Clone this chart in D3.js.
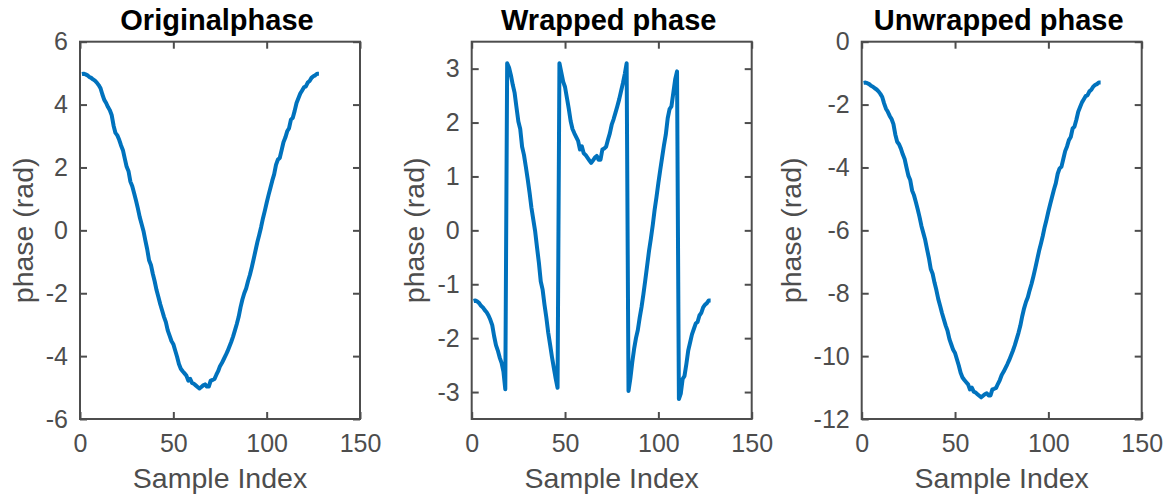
<!DOCTYPE html>
<html>
<head>
<meta charset="utf-8">
<script src="https://cdn.jsdelivr.net/npm/d3@7"></script>
<style>
  body { margin: 0; background: #fff; }
  svg { display: block; font-family: "Liberation Sans", Arial, Helvetica, sans-serif; }
</style>
</head>
<body>
<div id="chart"></div>
<script>
// phase values, samples 1..128
const originalPhase = [
  4.97, 4.98, 4.96, 4.93, 4.88, 4.85, 4.80, 4.76, 4.70, 4.62,
  4.52, 4.32, 4.15, 4.05, 3.92, 3.82, 3.66, 3.33, 3.10, 3.02,
  2.88, 2.70, 2.55, 2.28, 2.02, 1.88, 1.55, 1.40, 1.18, 0.95,
  0.70, 0.42, 0.20, -0.02, -0.32, -0.60, -0.95, -1.10, -1.38, -1.62,
  -1.90, -2.12, -2.35, -2.55, -2.75, -2.92, -3.18, -3.35, -3.52, -3.62,
  -3.82, -4.02, -4.25, -4.40, -4.48, -4.55, -4.62, -4.78, -4.72, -4.85,
  -4.88, -4.93, -4.98, -5.03, -4.98, -4.93, -4.90, -4.97, -4.97, -4.78,
  -4.76, -4.73, -4.60, -4.48, -4.32, -4.22, -4.10, -3.98, -3.85, -3.70,
  -3.55, -3.38, -3.18, -2.98, -2.75, -2.45, -2.20, -2.00, -1.85, -1.62,
  -1.42, -1.18, -0.92, -0.65, -0.38, -0.15, 0.10, 0.38, 0.62, 0.88,
  1.12, 1.35, 1.58, 1.78, 2.08, 2.25, 2.30, 2.55, 2.80, 2.95,
  3.15, 3.25, 3.52, 3.58, 3.80, 4.05, 4.20, 4.35, 4.45, 4.55,
  4.58, 4.70, 4.75, 4.85, 4.90, 4.93, 4.98, 4.98
];

const wrappedPhase = [
  -1.31, -1.30, -1.32, -1.35, -1.40, -1.43, -1.48, -1.52, -1.58, -1.66,
  -1.76, -1.96, -2.13, -2.23, -2.36, -2.46, -2.62, -2.95, 3.10, 3.02,
  2.88, 2.70, 2.55, 2.28, 2.02, 1.88, 1.55, 1.40, 1.18, 0.95,
  0.70, 0.42, 0.20, -0.02, -0.32, -0.60, -0.95, -1.10, -1.38, -1.62,
  -1.90, -2.12, -2.35, -2.55, -2.75, -2.92, 3.10, 2.93, 2.76, 2.66,
  2.46, 2.26, 2.03, 1.88, 1.80, 1.73, 1.66, 1.50, 1.56, 1.43,
  1.40, 1.35, 1.30, 1.25, 1.30, 1.35, 1.38, 1.31, 1.31, 1.50,
  1.52, 1.55, 1.68, 1.80, 1.96, 2.06, 2.18, 2.30, 2.43, 2.58,
  2.73, 2.90, 3.10, -2.98, -2.75, -2.45, -2.20, -2.00, -1.85, -1.62,
  -1.42, -1.18, -0.92, -0.65, -0.38, -0.15, 0.10, 0.38, 0.62, 0.88,
  1.12, 1.35, 1.58, 1.78, 2.08, 2.25, 2.30, 2.55, 2.80, 2.95,
  -3.13, -3.03, -2.76, -2.70, -2.48, -2.23, -2.08, -1.93, -1.83, -1.73,
  -1.70, -1.58, -1.53, -1.43, -1.38, -1.35, -1.30, -1.30
];

const unwrappedPhase = [
  -1.31, -1.30, -1.32, -1.35, -1.40, -1.43, -1.48, -1.52, -1.58, -1.66,
  -1.76, -1.96, -2.13, -2.23, -2.36, -2.46, -2.62, -2.95, -3.18, -3.26,
  -3.40, -3.58, -3.73, -4.00, -4.26, -4.40, -4.73, -4.88, -5.10, -5.33,
  -5.58, -5.86, -6.08, -6.30, -6.60, -6.88, -7.23, -7.38, -7.66, -7.90,
  -8.18, -8.40, -8.63, -8.83, -9.03, -9.20, -9.46, -9.63, -9.80, -9.90,
  -10.10, -10.30, -10.53, -10.68, -10.76, -10.83, -10.90, -11.06, -11.00, -11.13,
  -11.16, -11.21, -11.26, -11.31, -11.26, -11.21, -11.18, -11.25, -11.25, -11.06,
  -11.04, -11.01, -10.88, -10.76, -10.60, -10.50, -10.38, -10.26, -10.13, -9.98,
  -9.83, -9.66, -9.46, -9.26, -9.03, -8.73, -8.48, -8.28, -8.13, -7.90,
  -7.70, -7.46, -7.20, -6.93, -6.66, -6.43, -6.18, -5.90, -5.66, -5.40,
  -5.16, -4.93, -4.70, -4.50, -4.20, -4.03, -3.98, -3.73, -3.48, -3.33,
  -3.13, -3.03, -2.76, -2.70, -2.48, -2.23, -2.08, -1.93, -1.83, -1.73,
  -1.70, -1.58, -1.53, -1.43, -1.38, -1.35, -1.30, -1.30
];

const titles = ["Originalphase", "Wrapped phase", "Unwrapped phase"];
const xLabel = "Sample Index";
const yLabel = "phase (rad)";
const xTickValues = [0, 50, 100, 150];
const yDomains = [[-6, 6], [-3.5, 3.5], [-12, 0]];
const yTickValues = [
  [-6, -4, -2, 0, 2, 4, 6],
  [-3, -2, -1, 0, 1, 2, 3],
  [-12, -10, -8, -6, -4, -2, 0]
];

const width = 1173;
const height = 495;
const panelLefts = [80, 471.7, 861.7];
const plotW = 280;
const plotTop = 41.7;
const plotH = 377.3;
const axisColor = "#4d4d4d";
const lineColor = "#0072bd";
const tickLen = 7;
const fmt = d => String(d); // plain hyphen minus, like the original

const svg = d3.select("#chart").append("svg")
  .attr("width", width)
  .attr("height", height);

const seriesList = [originalPhase, wrappedPhase, unwrappedPhase];

seriesList.forEach((values, p) => {
  const g = svg.append("g")
    .attr("transform", `translate(${panelLefts[p]},${plotTop})`);

  const x = d3.scaleLinear().domain([0, 150]).range([0, plotW]);
  const y = d3.scaleLinear().domain(yDomains[p]).range([plotH, 0]);

  // box
  g.append("rect")
    .attr("width", plotW)
    .attr("height", plotH)
    .attr("fill", "none")
    .attr("stroke", axisColor)
    .attr("stroke-width", 2);

  const xAxis = g.append("g")
    .attr("transform", `translate(0,${plotH})`)
    .call(d3.axisBottom(x).tickValues(xTickValues).tickFormat(fmt).tickSizeInner(-tickLen).tickSizeOuter(0).tickPadding(15));
  const xAxisTop = g.append("g")
    .call(d3.axisTop(x).tickValues(xTickValues).tickSizeInner(-tickLen).tickSizeOuter(0).tickFormat(""));
  const yAxis = g.append("g")
    .call(d3.axisLeft(y).tickValues(yTickValues[p]).tickFormat(fmt).tickSizeInner(-tickLen).tickSizeOuter(0).tickPadding(12));
  const yAxisRight = g.append("g")
    .attr("transform", `translate(${plotW},0)`)
    .call(d3.axisRight(y).tickValues(yTickValues[p]).tickSizeInner(-tickLen).tickSizeOuter(0).tickFormat(""));

  [xAxis, xAxisTop, yAxis, yAxisRight].forEach(a => {
    a.select(".domain").remove();
    a.selectAll(".tick line").attr("stroke", axisColor).attr("stroke-width", 2);
    a.selectAll(".tick text")
      .attr("fill", axisColor)
      .style("font-size", "25px")
      .style("font-family", "\"Liberation Sans\", Arial, sans-serif");
  });

  // y label sits left of the widest tick label
  let maxW = 0;
  yAxis.selectAll(".tick text").each(function() {
    maxW = Math.max(maxW, this.getComputedTextLength());
  });
  const labelX = -12 - maxW - 13;

  g.append("text")
    .attr("transform", `translate(${labelX},${plotH / 2}) rotate(-90)`)
    .attr("text-anchor", "middle")
    .attr("fill", axisColor)
    .style("font-size", "28.5px")
    .text(yLabel);

  g.append("text")
    .attr("x", plotW / 2)
    .attr("y", plotH + 69)
    .attr("text-anchor", "middle")
    .attr("fill", axisColor)
    .style("font-size", "28.5px")
    .text(xLabel);

  g.append("text")
    .attr("x", plotW / 2 - 3)
    .attr("y", -11.5)
    .attr("text-anchor", "middle")
    .attr("fill", "#000")
    .style("font-size", "29px")
    .style("font-weight", "bold")
    .text(titles[p]);

  const line = d3.line()
    .x((d, i) => x(i + 1))
    .y(d => y(d));

  g.append("path")
    .datum(values)
    .attr("d", line)
    .attr("fill", "none")
    .attr("stroke", lineColor)
    .attr("stroke-width", 4)
    .attr("stroke-linejoin", "round");
});
</script>
</body>
</html>
